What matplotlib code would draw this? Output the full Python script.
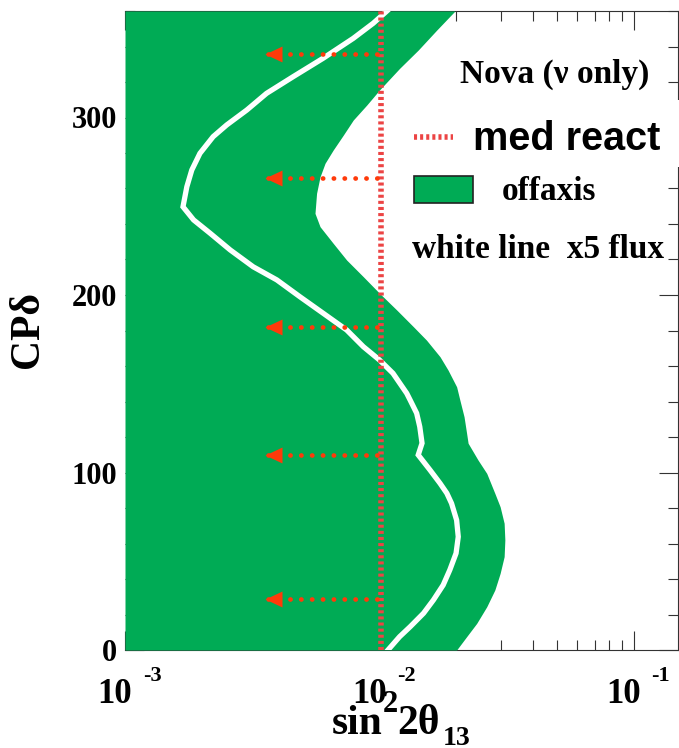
import matplotlib
matplotlib.use('Agg')
import matplotlib.pyplot as plt
from matplotlib.ticker import LogLocator, MultipleLocator, NullFormatter
from matplotlib.path import Path
from matplotlib.patches import Rectangle
from matplotlib.lines import Line2D

# --- data ---
# right edge of the green "offaxis" region (CP delta vs sin^2 2theta13)
band_cp = [0, 7.5, 15.0, 24.4, 33.8, 43.2, 52.6, 62.0, 71.4, 80.7, 88.3,
           99.5, 107.0, 116.5, 122.1, 131.4, 140.8, 148.3, 157.7, 165.2,
           174.6, 182.1, 191.5, 201.0, 210.3, 219.7, 229.1, 238.5, 246.0,
           257.3, 266.6, 274.2, 281.7, 290.1, 298.6, 307.0, 315.5, 327.7,
           338.0, 349.3, 360]
band_s = [0.0201, 0.0220, 0.0241, 0.0264, 0.0284, 0.0298, 0.0309, 0.0311,
          0.0309, 0.0298, 0.0284, 0.0264, 0.0244, 0.0223, 0.0220, 0.0215,
          0.0207, 0.0201, 0.0186, 0.0173, 0.0153, 0.0136, 0.0117, 0.0100,
          0.00864, 0.00743, 0.00658, 0.00584, 0.00558, 0.00566, 0.00584,
          0.00611, 0.00658, 0.00721, 0.00789, 0.00891, 0.0100, 0.0120,
          0.0142, 0.0168, 0.0198]

# white line (x5 flux)
white_cp = [0, 7.5, 13.1, 20.7, 28.2, 36.6, 45.1, 54.5, 63.8, 73.2, 82.6,
            88.3, 93.9, 101.4, 109.9, 116.5, 125.8, 133.4, 140.8, 144.6,
            155.9, 163.4, 170.9, 180.3, 189.7, 199.0, 208.5, 215.9, 225.4,
            234.8, 242.3, 249.7, 261.0, 270.4, 279.8, 289.2, 295.8, 304.2,
            313.6, 323.0, 333.4, 344.6, 353.1, 360]
white_s = [0.0108, 0.0120, 0.0132, 0.0149, 0.0163, 0.0178, 0.0189, 0.0200,
           0.0204, 0.0201, 0.0192, 0.0184, 0.0173, 0.0158, 0.0142, 0.0147,
           0.0144, 0.0140, 0.0132, 0.0128, 0.0113, 0.0100, 0.00864, 0.00743,
           0.00601, 0.00487, 0.00395, 0.00319, 0.00259, 0.00216, 0.00186,
           0.00169, 0.00175, 0.00183, 0.00197, 0.00222, 0.00251, 0.00301,
           0.00360, 0.00458, 0.00601, 0.00789, 0.00945, 0.0107]

react_limit = 0.0101          # medium reactor sensitivity
arrow_cp = [29, 110, 182, 266, 336]
arrow_from = 0.0098
arrow_to = 0.00355

x_decades = [-3, -2, -1]
y_ticks = [0, 100, 200, 300]

GREEN = '#00ab55'
RED = '#ec4444'
ARROW = '#ff3a0a'
SERIF = 'Liberation Serif'
SANS = 'Liberation Sans'

plt.rcParams['font.family'] = [SERIF, 'DejaVu Serif']
plt.rcParams['font.weight'] = 'bold'

W, H = 679, 748
fig = plt.figure(figsize=(W / 100, H / 100), dpi=100)
ax = fig.add_axes([125 / W, 98 / H, 553 / W, 639 / H])
ax.set_xscale('log')
ax.set_xlim(1e-3, 0.149)
ax.set_ylim(0, 360)


def px(x, y):
    # pixel position -> figure fraction
    return x / W, 1 - y / H


# green region and white line
ax.fill_betweenx(band_cp, 1e-3, band_s, color=GREEN, lw=0, zorder=3)
ax.plot(white_s, white_cp, color='white', lw=3.8, zorder=4,
        solid_joinstyle='miter')

# reactor line
ax.axvline(react_limit, color=RED, lw=4, ls=(0, (0.55, 0.55)), zorder=5)

# arrows
head = Path([(0, 0), (1, 0.47), (1, -0.47), (0, 0)],
            [Path.MOVETO, Path.LINETO, Path.LINETO, Path.CLOSEPOLY])
for cp in arrow_cp:
    ax.plot([arrow_from, arrow_to], [cp, cp], color=ARROW, lw=3.4,
            ls=(0, (0.05, 2.25)), dash_capstyle='round', zorder=6)
    ax.plot([arrow_to], [cp], marker=head, ms=24.5, mew=0, color=ARROW,
            zorder=7)

# axes styling
ax.spines['left'].set_visible(False)
for s in ['top', 'right', 'bottom']:
    ax.spines[s].set_linewidth(0.8)
    ax.spines[s].set_color('#333333')
ax.xaxis.set_major_locator(LogLocator(base=10, numticks=10))
ax.xaxis.set_minor_locator(LogLocator(base=10, subs=range(2, 10), numticks=20))
ax.xaxis.set_major_formatter(NullFormatter())
ax.xaxis.set_minor_formatter(NullFormatter())
ax.set_yticks(y_ticks)
ax.yaxis.set_minor_locator(MultipleLocator(20))
ax.set_yticklabels([str(v) for v in y_ticks], fontfamily=SERIF,
                   fontweight='bold', fontsize=22)
ax.tick_params(which='both', direction='in', top=True, right=True,
               left=True, bottom=True, color='#333333', width=0.8)
ax.tick_params(which='major', length=14)
ax.tick_params(which='minor', length=7)
ax.tick_params(axis='y', pad=5.8)

# x tick labels in ROOT style
for e in x_decades:
    ax.annotate('10', xy=(10.0 ** e, 0), xycoords=('data', 'axes fraction'),
                xytext=(-10 * 0.72, -53 * 0.72), textcoords='offset points',
                ha='center', va='baseline', fontsize=25, fontweight='bold',
                annotation_clip=False)
    ax.annotate('%d' % e, xy=(10.0 ** e, 0), xycoords=('data', 'axes fraction'),
                xytext=(27 * 0.72, -31 * 0.72), textcoords='offset points',
                ha='center', va='baseline', fontsize=16, fontweight='bold',
                annotation_clip=False)

# axis titles
fig.text(*px(332, 734), 'sin', fontsize=30, fontweight='bold', ha='left', va='baseline')
fig.text(*px(383, 712), '2', fontsize=22, fontweight='bold', ha='left', va='baseline')
fig.text(*px(397, 734), '2θ', fontsize=30, fontweight='bold', ha='left', va='baseline')
fig.text(*px(443, 745), '13', fontsize=20, fontweight='bold', ha='left', va='baseline')
fig.text(*px(28, 330), 'CPδ', fontsize=30, fontweight='bold', rotation=90,
         ha='center', va='center')


# legend
def axf(x, y):
    return (x - 125) / 553, (650 - y) / 639


ax.add_patch(Rectangle(axf(453, 167), (686 - 453) / 553, 67 / 639,
                       transform=ax.transAxes, facecolor='white', lw=0,
                       clip_on=False, zorder=8))
ax.text(*axf(460, 83), 'Nova (ν only)', transform=ax.transAxes, fontsize=24,
        fontweight='bold', ha='left', va='baseline', zorder=9)
ax.add_line(Line2D([axf(414, 0)[0], axf(453, 0)[0]], [axf(0, 137)[1]] * 2,
                   transform=ax.transAxes, color=RED, lw=4,
                   ls=(0, (0.55, 0.55)), clip_on=False, zorder=9))
ax.text(*axf(473, 150), 'med react', transform=ax.transAxes, fontsize=28.5,
        fontfamily=SANS, fontweight='bold', ha='left', va='baseline', zorder=9)
ax.add_patch(Rectangle(axf(414, 203), 59 / 553, 27 / 639, transform=ax.transAxes,
                       facecolor=GREEN, edgecolor='#222222', lw=1.2,
                       clip_on=False, zorder=9))
ax.text(*axf(502, 200), 'offaxis', transform=ax.transAxes, fontsize=24,
        fontweight='bold', ha='left', va='baseline', zorder=9)
ax.text(*axf(412, 258), 'white line  x5 flux', transform=ax.transAxes,
        fontsize=24, fontweight='bold', ha='left', va='baseline', zorder=9)

fig.savefig('out.png', dpi=100)
